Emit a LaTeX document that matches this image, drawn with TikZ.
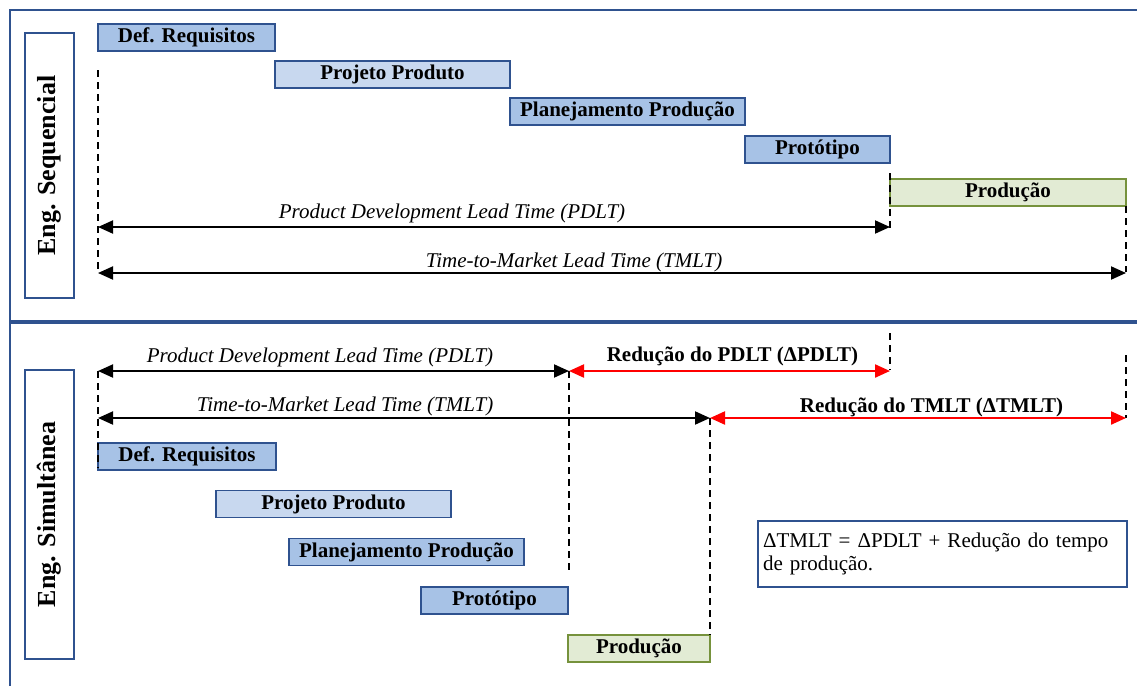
\documentclass[tikz,border=0pt]{standalone}
\usepackage{fontspec}
\setmainfont{Liberation Serif}
\usetikzlibrary{arrows.meta}

\definecolor{frameblue}{RGB}{47,82,143}
\definecolor{barblue}{RGB}{167,194,230}
\definecolor{barlight}{RGB}{200,216,239}
\definecolor{bargreen}{RGB}{226,235,212}
\definecolor{greenedge}{RGB}{118,146,60}
\definecolor{redarrow}{RGB}{255,0,0}

\tikzset{
  bar/.style={draw=frameblue, line width=1.6pt, minimum height=27pt,
    inner sep=0pt, font=\fontsize{21}{24}\selectfont\bfseries},
  barmid/.style={bar, fill=barblue},
  barpale/.style={bar, fill=barlight},
  barprod/.style={bar, draw=greenedge, fill=bargreen},
  titlebox/.style={draw=frameblue, line width=1.4pt, minimum width=49pt,
    minimum height=265pt, inner sep=0pt},
  titletext/.style={rotate=90, font=\fontsize{26}{29}\selectfont\bfseries},
  guide/.style={draw=black, line width=1.7pt, dash pattern=on 7pt off 5pt},
  tip/.style={Triangle[length=15pt,width=13pt]},
  span/.style={draw=black, line width=2pt, {Triangle[length=15pt,width=13pt]}-{Triangle[length=15pt,width=13pt]}},
  gain/.style={draw=redarrow, line width=2.2pt, {Triangle[length=15pt,width=13pt]}-{Triangle[length=15pt,width=13pt]}},
  spanlabel/.style={font=\fontsize{21}{24}\selectfont\itshape, inner sep=0pt},
  gainlabel/.style={font=\fontsize{21}{24}\selectfont\bfseries, inner sep=0pt},
  frameline/.style={draw=frameblue, line width=2pt},
}

\begin{document}
\begin{tikzpicture}[x=1pt, y=-1pt]
\useasboundingbox (0,0) rectangle (1137,686);

% outer frame and section divider
\draw[frameline] (10,686) -- (10,10) -- (1137,10);
\draw[frameblue, line width=3.5pt] (10,322) -- (1137,322);

% section titles
\node[titlebox] (tbox1) at (49.5,165.5) {};
\node[titletext] (ttl1) at (tbox1.center) {Eng. Sequencial};
\node[titlebox, minimum height=289pt] (tbox2) at (49.5,514.5) {};
\node[titletext] (ttl2) at (tbox2.center) {Eng. Simultânea};

% ---------- sequential engineering ----------
\node[barmid,  minimum width=177pt] (s1) at (186.5,37.5)  {Def. Requisitos};
\node[barpale, minimum width=235pt] (s2) at (392.5,74.5)  {Projeto Produto};
\node[barmid,  minimum width=235pt] (s3) at (627.5,111.5) {Planejamento Produção};
\node[barmid,  minimum width=145pt] (s4) at (817.5,149.5) {Protótipo};
\node[barprod, minimum width=236pt] (s5) at (1008,192.5)  {Produção};

\coordinate (sg1a) at (98,70);   \coordinate (sg1b) at (98,272);
\coordinate (sg2a) at (890,173); \coordinate (sg2b) at (890,228);
\coordinate (sg3a) at (1126,206); \coordinate (sg3b) at (1126,272);
\draw[guide] (sg1a) -- (sg1b);
\draw[guide] (sg2a) -- (sg2b);
\draw[guide] (sg3a) -- (sg3b);

\coordinate (spA) at (98,227);  \coordinate (spB) at (890,227);
\coordinate (stA) at (98,273);  \coordinate (stB) at (1126,273);
\draw[span] (spA) -- (spB);
\draw[span] (stA) -- (stB);
\node[spanlabel] (spl) at (452,213) {Product Development Lead Time (PDLT)};
\node[spanlabel] (stl) at (574,262) {Time-to-Market Lead Time (TMLT)};

% ---------- simultaneous engineering ----------
\node[barmid,  minimum width=178pt] (b1) at (187,456.5)   {Def. Requisitos};
\node[barpale, minimum width=235pt] (b2) at (333.5,504)   {Projeto Produto};
\node[barmid,  minimum width=235pt] (b3) at (406.5,552)   {Planejamento Produção};
\node[barmid,  minimum width=147pt] (b4) at (494.5,600.5) {Protótipo};
\node[barprod, minimum width=142pt] (b5) at (639,648.5)   {Produção};

\coordinate (bg1a) at (98,371);  \coordinate (bg1b) at (98,468);
\coordinate (bg2a) at (569,371); \coordinate (bg2b) at (569,571);
\coordinate (bg3a) at (710,418); \coordinate (bg3b) at (710,635);
\coordinate (bg4a) at (890,333); \coordinate (bg4b) at (890,370);
\coordinate (bg5a) at (1126,355); \coordinate (bg5b) at (1126,418);
\draw[guide] (bg1a) -- (bg1b);
\draw[guide] (bg2a) -- (bg2b);
\draw[guide] (bg3a) -- (bg3b);
\draw[guide] (bg4a) -- (bg4b);
\draw[guide] (bg5a) -- (bg5b);

\coordinate (bpA) at (98,371);  \coordinate (bpB) at (569,371);
\coordinate (brA) at (569,371); \coordinate (brB) at (890,371);
\coordinate (btA) at (98,418);  \coordinate (btB) at (710,418);
\coordinate (bsA) at (710,418); \coordinate (bsB) at (1126,418);
\draw[span] (bpA) -- (bpB);
\draw[gain] (brA) -- (brB);
\draw[span] (btA) -- (btB);
\draw[gain] (bsA) -- (bsB);
\node[spanlabel] (bpl) at (320,357) {Product Development Lead Time (PDLT)};
\node[spanlabel] (btl) at (345,406) {Time-to-Market Lead Time (TMLT)};
\node[gainlabel] (brl) at (732.5,356) {Redução do PDLT (ΔPDLT)};
\node[gainlabel] (bsl) at (931.5,407) {Redução do TMLT (ΔTMLT)};

% summary note
\node[draw=frameblue, line width=1.6pt, minimum width=369pt, minimum height=66pt,
  inner xsep=5pt, text width=359pt, align=left,
  font=\fontsize{21}{23}\selectfont] (note) at (942.5,554)
  {ΔTMLT = ΔPDLT + Redução do tempo\\de produção.};
\end{tikzpicture}
\end{document}
